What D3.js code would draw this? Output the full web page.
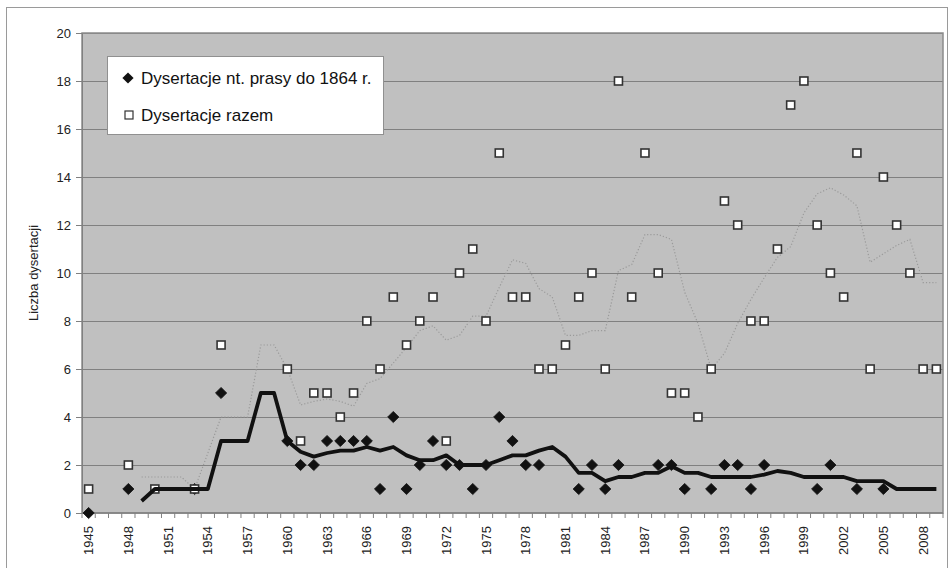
<!DOCTYPE html>
<html>
<head>
<meta charset="utf-8">
<script src="https://cdn.jsdelivr.net/npm/d3@7"></script>
<style>
  html, body { margin: 0; padding: 0; background: #fff; }
  svg { display: block; font-family: "Liberation Sans", Arial, sans-serif; }
</style>
</head>
<body>
<svg id="chart" width="950" height="568"></svg>
<script>
const years = [1945,1946,1947,1948,1949,1950,1951,1952,1953,1954,1955,1956,1957,1958,1959,
  1960,1961,1962,1963,1964,1965,1966,1967,1968,1969,1970,1971,1972,1973,1974,
  1975,1976,1977,1978,1979,1980,1981,1982,1983,1984,1985,1986,1987,1988,1989,
  1990,1991,1992,1993,1994,1995,1996,1997,1998,1999,2000,2001,2002,2003,2004,
  2005,2006,2007,2008,2009];

const yTicks = [0,2,4,6,8,10,12,14,16,18,20];
const xLabelYears = [1945,1948,1951,1954,1957,1960,1963,1966,1969,1972,1975,1978,1981,1984,1987,1990,1993,1996,1999,2002,2005,2008];

const seriesNames = ["Dysertacje nt. prasy do 1864 r.", "Dysertacje razem"];
const yAxisTitle = "Liczba dysertacji";

// Dissertations on press up to 1864 (diamonds)
const pressValues = [0,null,null,1,null,null,null,null,1,null,5,null,null,null,null,
  3,2,2,3,3,3,3,1,4,1,2,3,2,2,1,
  2,4,3,2,2,null,null,1,2,1,2,null,null,2,2,
  1,null,1,2,2,1,2,null,null,null,1,2,null,1,null,
  1,null,null,null,null];

// All dissertations (squares)
const totalValues = [1,null,null,2,null,1,null,null,1,null,7,null,null,null,null,
  6,3,5,5,4,5,8,6,9,7,8,9,3,10,11,
  8,15,9,9,6,6,7,9,10,6,18,9,15,10,5,
  5,4,6,13,12,8,8,11,17,18,12,10,9,15,6,
  14,12,10,6,6];

// Trend (moving average) of press dissertations — thick black line
const pressTrend = [null,null,null,null,0.5,1,1,1,1,1,3,3,3,5,5,
  3,2.55,2.35,2.5,2.6,2.6,2.75,2.6,2.75,2.4,2.2,2.2,2.4,2.0,2.0,
  2.0,2.2,2.4,2.4,2.6,2.75,2.35,1.67,1.67,1.33,1.5,1.5,1.67,1.67,1.95,
  1.67,1.67,1.5,1.5,1.5,1.5,1.6,1.75,1.67,1.5,1.5,1.5,1.5,1.33,1.33,
  1.33,1,1,1,1];

// Trend (moving average) of all dissertations — dotted grey line
const totalTrend = [null,null,null,null,1.5,1.5,1.5,1.5,1.0,2.5,4,4,4,7,7,
  6,4.5,4.65,4.75,4.65,4.45,5.4,5.6,6.25,6.9,7.6,7.8,7.2,7.4,8.2,
  8.2,9.4,10.55,10.4,9.35,9.0,7.4,7.4,7.6,7.6,10.1,10.35,11.6,11.6,11.4,
  9.2,7.9,6.0,6.65,7.9,8.9,9.8,10.65,11.1,12.5,13.3,13.55,13.25,12.8,10.45,
  10.8,11.15,11.4,9.6,9.6];

const svg = d3.select("#chart");
const W = 950, H = 568;
const m = {left: 82, right: 7, top: 33, bottom: 55};
const pw = W - m.left - m.right, ph = H - m.top - m.bottom;

// outer chart border
svg.append("rect").attr("x", 6.5).attr("y", 7.5).attr("width", 941).attr("height", 575)
  .attr("fill", "#fff").attr("stroke", "#9a9a9a").attr("stroke-width", 1);

const g = svg.append("g").attr("transform", `translate(${m.left},${m.top})`);

const x = d3.scaleBand().domain(years).range([0, pw]).padding(0);
const y = d3.scaleLinear().domain([0, 20]).range([ph, 0]);
const cx = yr => x(yr) + x.bandwidth() / 2;

// plot area
g.append("rect").attr("x", 0).attr("y", 0).attr("width", pw).attr("height", ph)
  .attr("fill", "#c0c0c0");

// gridlines
g.append("g").selectAll("line").data(yTicks.filter(t => t > 0)).join("line")
  .attr("x1", 0).attr("x2", pw)
  .attr("y1", d => Math.round(y(d)) + 0.5).attr("y2", d => Math.round(y(d)) + 0.5)
  .attr("stroke", "#808080").attr("stroke-width", 1.2);

// plot border
g.append("rect").attr("x", 0).attr("y", 0).attr("width", pw).attr("height", ph)
  .attr("fill", "none").attr("stroke", "#8c8c8c").attr("stroke-width", 1.5);

// Y axis
const yAxis = d3.axisLeft(y).tickValues(yTicks).tickSize(6).tickPadding(5);
const ya = g.append("g").call(yAxis);
ya.select(".domain").attr("stroke", "#808080");
ya.selectAll(".tick line").attr("stroke", "#808080");
ya.selectAll("text").attr("font-size", 13).attr("fill", "#222")
  .attr("font-family", "Liberation Sans, Arial, sans-serif");

// X axis ticks at category boundaries
const boundaries = years.map(yr => x(yr)).concat([pw]);
g.append("g").selectAll("line").data(boundaries).join("line")
  .attr("x1", d => d).attr("x2", d => d).attr("y1", ph).attr("y2", ph + 5)
  .attr("stroke", "#808080").attr("stroke-width", 1);
g.append("line").attr("x1", 0).attr("x2", pw).attr("y1", ph).attr("y2", ph)
  .attr("stroke", "#808080").attr("stroke-width", 1.5);

// X labels
g.append("g").selectAll("text").data(xLabelYears).join("text")
  .attr("transform", d => `translate(${cx(d) + 4.5},${ph + 13}) rotate(-90)`)
  .attr("text-anchor", "end")
  .attr("font-size", 13).attr("fill", "#222")
  .text(d => d);

// Y axis title
svg.append("text")
  .attr("transform", `translate(38,${m.top + ph / 2}) rotate(-90)`)
  .attr("text-anchor", "middle").attr("font-size", 13).attr("fill", "#222")
  .text(yAxisTitle);

// trend lines
const lineGen = d3.line()
  .defined(d => d.v !== null)
  .x(d => cx(d.yr)).y(d => y(d.v));

const totalTrendData = years.map((yr, i) => ({yr, v: totalTrend[i]}));
const pressTrendData = years.map((yr, i) => ({yr, v: pressTrend[i]}));

g.append("path").datum(totalTrendData).attr("d", lineGen)
  .attr("fill", "none").attr("stroke", "#9a9a9a").attr("stroke-width", 1.2)
  .attr("stroke-dasharray", "1.2,2");

// diamonds
const diamond = d3.symbol().type(d3.symbolDiamond2).size(80);
const pressPts = years.map((yr, i) => ({yr, v: pressValues[i]})).filter(d => d.v !== null);
g.append("g").selectAll("path").data(pressPts).join("path")
  .attr("d", diamond)
  .attr("transform", d => `translate(${cx(d.yr)},${y(d.v)})`)
  .attr("fill", "#111").attr("stroke", "#111").attr("stroke-width", 0.8);

// squares
const totalPts = years.map((yr, i) => ({yr, v: totalValues[i]})).filter(d => d.v !== null);
const sq = 8;
g.append("g").selectAll("rect").data(totalPts).join("rect")
  .attr("x", d => cx(d.yr) - sq / 2).attr("y", d => y(d.v) - sq / 2)
  .attr("width", sq).attr("height", sq)
  .attr("fill", "#fff").attr("stroke", "#333").attr("stroke-width", 1.6);

// press trend line
g.append("path").datum(pressTrendData).attr("d", lineGen)
  .attr("fill", "none").attr("stroke", "#111").attr("stroke-width", 3.8)
  .attr("stroke-linejoin", "round");

// legend
const lg = svg.append("g").attr("transform", "translate(107,56)");
lg.append("rect").attr("x", 0.5).attr("y", 0.5).attr("width", 276).attr("height", 78)
  .attr("fill", "#fff").attr("stroke", "#909090").attr("stroke-width", 1);
lg.append("path").attr("d", d3.symbol().type(d3.symbolDiamond2).size(80))
  .attr("transform", "translate(21,22)").attr("fill", "#111");
lg.append("text").attr("x", 34).attr("y", 22).attr("dy", "0.35em")
  .attr("font-size", 17).attr("fill", "#111").text(seriesNames[0]);
lg.append("rect").attr("x", 18).attr("y", 55).attr("width", 8).attr("height", 8)
  .attr("fill", "#fff").attr("stroke", "#333").attr("stroke-width", 1.2);
lg.append("text").attr("x", 34).attr("y", 59).attr("dy", "0.35em")
  .attr("font-size", 17).attr("fill", "#111").text(seriesNames[1]);
</script>
</body>
</html>
